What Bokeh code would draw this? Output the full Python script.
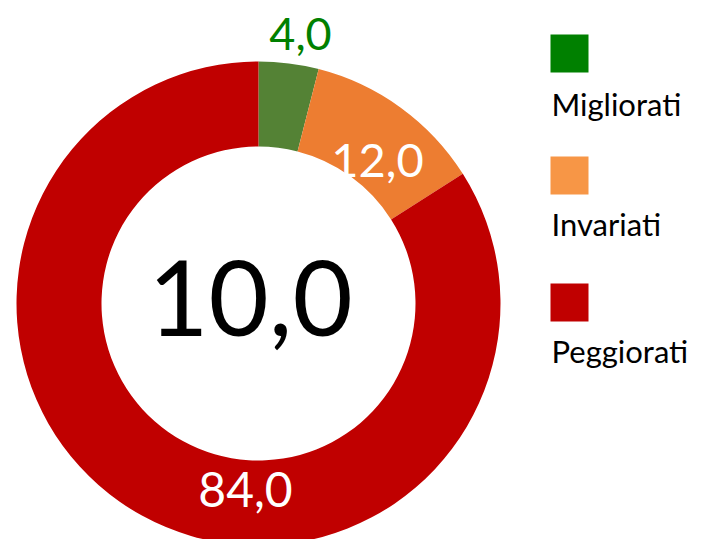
import numpy as np
from bokeh.plotting import figure
from bokeh.models import Range1d, ColumnDataSource
from bokeh.core.properties import value
from bokeh.embed import file_html
from bokeh.resources import INLINE

# ---- data ----
categories = ["Migliorati", "Invariati", "Peggiorati"]
shares = [4.0, 12.0, 84.0]
center_value = 10.0
slice_colors = ["#548235", "#ED7D31", "#C00000"]
legend_colors = ["#008000", "#F79646", "#C00000"]
label_colors = ["#008000", "#FFFFFF", "#FFFFFF"]

def fmt(v):
    return f"{v:.1f}".replace(".", ",")

# ---- layout (screen px of the page; converted to data coords with y up) ----
W, H = 714, 539
OFF = 0
PAGE_H = 539

def sy(y):  # screen y -> data y
    return PAGE_H - y

cx, cy = 258, sy(303)
R_OUT, R_IN = 242, 157
label_pos = [(300, 33), (377, 160), (245, 489)]
label_sizes = ["45px", "47px", "48px"]
swatch_y = [53, 175, 302]
legend_text_y = [103, 223, 350]

p = figure(width=W, height=H, output_backend="svg", toolbar_location=None,
           x_range=Range1d(OFF, OFF + W), y_range=Range1d(sy(OFF + H), sy(OFF)),
           min_border=0, outline_line_color=None)
p.axis.visible = False
p.grid.visible = False
p.background_fill_color = "white"
p.border_fill_color = "white"

frac = np.array(shares) / sum(shares)
cum = np.concatenate([[0], np.cumsum(frac)])
start = np.pi / 2 - 2 * np.pi * cum[:-1]
end = np.pi / 2 - 2 * np.pi * cum[1:]

src = ColumnDataSource(dict(start=start, end=end, color=slice_colors))
p.annular_wedge(x=cx, y=cy, inner_radius=R_IN, outer_radius=R_OUT,
                inner_radius_units="screen", outer_radius_units="screen",
                start_angle="start", end_angle="end", direction="clock",
                fill_color="color", line_color=None, source=src)

FONT = value("Lato")
for (lx, ly), v, c, s in zip(label_pos, shares, label_colors, label_sizes):
    p.text(x=[lx], y=[sy(ly)], text=[fmt(v)], text_color=c, text_font=FONT,
           text_font_size=s, text_align="center", text_baseline="middle")

p.text(x=[cx - 8], y=[sy(297)], text=[fmt(center_value)], text_color="black",
       text_font=FONT, text_font_size="104px", text_align="center",
       text_baseline="middle")

p.rect(x=[569] * 3, y=[sy(v) for v in swatch_y], width=38, height=38,
       width_units="screen", height_units="screen",
       fill_color=legend_colors, line_color=None)
p.text(x=[551] * 3, y=[sy(v) for v in legend_text_y], text=categories,
       text_color="black", text_font=FONT, text_font_size="31px",
       text_align="left", text_baseline="middle")

open("out.html", "w").write(file_html(p, INLINE))
